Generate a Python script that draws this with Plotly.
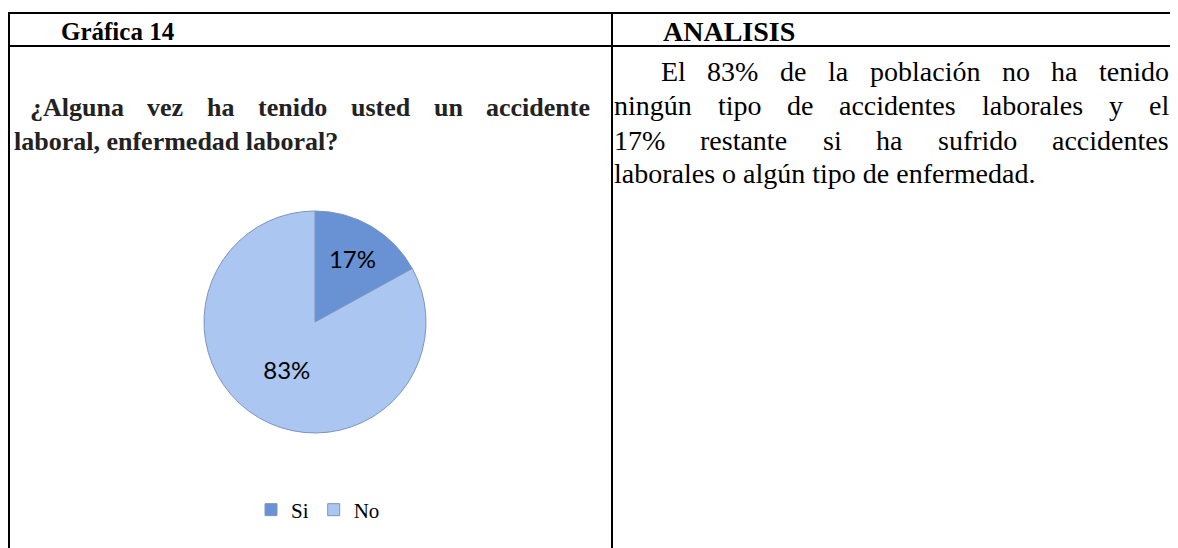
import plotly.graph_objects as go

# page body has an 8px margin: the figure is offset by (8, 8) in the window
OFF = 8
W, H = 1178 - OFF, 548 - OFF

# ---- data ----
categories = ["Si", "No"]
values = [17, 83]
colors = ["#6892d4", "#abc6f0"]

header_left = "Gráfica 14"
header_right = "ANALISIS"
question_lines = ["¿Alguna vez ha tenido usted un accidente", "laboral, enfermedad laboral?"]
analysis_lines = [
    "El 83% de la población no ha tenido",
    "ningún tipo de accidentes laborales y el",
    "17% restante si ha sufrido accidentes",
    "laborales o algún tipo de enfermedad.",
]

# ---- Times-compatible font metrics (per 1000 em) for justification ----
REG = {" ": 250, "%": 833, ",": 250, ".": 250, "?": 444, "¿": 444,
       "A": 722, "E": 611, "G": 722, "I": 333, "L": 611, "N": 722, "S": 556,
       "a": 444, "b": 500, "c": 444, "d": 500, "e": 444, "f": 333, "g": 500, "h": 500,
       "i": 278, "l": 278, "m": 778, "n": 500, "o": 500, "p": 500, "r": 333, "s": 389,
       "t": 278, "u": 500, "v": 500, "y": 500, "z": 444, "á": 444, "ó": 500, "ú": 500}
BOLD = {" ": 250, "%": 1000, ",": 250, ".": 250, "?": 500, "¿": 500,
        "A": 722, "E": 667, "G": 778, "I": 389, "L": 667, "N": 722, "S": 556,
        "a": 500, "b": 556, "c": 444, "d": 556, "e": 444, "f": 333, "g": 500, "h": 556,
        "i": 278, "l": 278, "m": 833, "n": 556, "o": 500, "p": 556, "r": 444, "s": 389,
        "t": 333, "u": 556, "v": 500, "y": 500, "z": 444, "á": 500, "ó": 500, "ú": 556}
for t in (REG, BOLD):
    for d in "0123456789":
        t[d] = 500


def text_w(s, size, table):
    return sum(table.get(c, 500) for c in s) * size / 1000.0


def px(x):
    return (x - OFF) / W


def py(y):
    return 1 - (y - OFF) / H


fig = go.Figure()

cx, cy, r = 315, 322, 111
fig.add_trace(go.Pie(
    labels=categories,
    values=values,
    sort=False,
    direction="clockwise",
    marker=dict(colors=colors, line=dict(color="#7d95bd", width=1)),
    texttemplate="%{percent:.0%}",
    textposition="inside",
    insidetextorientation="horizontal",
    textfont=dict(family="Lato, Liberation Sans", size=24, color="#000000"),
    domain=dict(x=[px(cx - r), px(cx + r)], y=[py(cy + r), py(cy - r)]),
    hoverinfo="label+percent",
))

shapes = []
line = dict(color="#000000", width=2)
for y in (13, 46):
    shapes.append(dict(type="line", xref="paper", yref="paper",
                       x0=px(8), x1=px(1200), y0=py(y), y1=py(y), line=line))
for x in (9, 612):
    shapes.append(dict(type="line", xref="paper", yref="paper",
                       x0=px(x), x1=px(x), y0=py(13), y1=py(600), line=line))

ann = []
serif = "Liberation Serif, Times New Roman, serif"


def add_text(s, x, y, size, bold=False, color="#000"):
    ann.append(dict(text=("<b>%s</b>" % s) if bold else s, x=px(x), y=py(y),
                    xref="paper", yref="paper", xanchor="left", yanchor="middle",
                    showarrow=False, borderpad=0, borderwidth=0,
                    font=dict(family=serif, size=size, color=color)))


def add_justified(s, left, right, y, size, bold=False, color="#000"):
    table = BOLD if bold else REG
    words = s.split(" ")
    widths = [text_w(w, size, table) for w in words]
    gap = (right - left - sum(widths)) / (len(words) - 1)
    x = left
    for w, ww in zip(words, widths):
        add_text(w, x, y, size, bold, color)
        x += ww + gap


add_text(header_left, 61, 31, 25, bold=True)
add_text(header_right, 663, 31, 28, bold=True)

add_justified(question_lines[0], 30, 590, 108, 26, bold=True, color="#222")
add_text(question_lines[1], 14, 142, 26, bold=True, color="#222")

add_justified(analysis_lines[0], 661, 1169, 72, 28)
add_justified(analysis_lines[1], 614, 1169, 106, 28)
add_justified(analysis_lines[2], 614, 1169, 140, 28)
add_text(analysis_lines[3], 614, 174, 28)

fig.update_layout(
    width=W, height=H,
    margin=dict(l=0, r=0, t=0, b=0),
    paper_bgcolor="#ffffff",
    plot_bgcolor="#ffffff",
    shapes=shapes,
    annotations=ann,
    showlegend=True,
    legend=dict(orientation="h", x=px(318), y=py(510), xanchor="center", yanchor="middle",
                font=dict(family="Liberation Serif, serif", size=21, color="#000"),
                itemwidth=30, tracegroupgap=0),
)

fig.write_html("out.html")
